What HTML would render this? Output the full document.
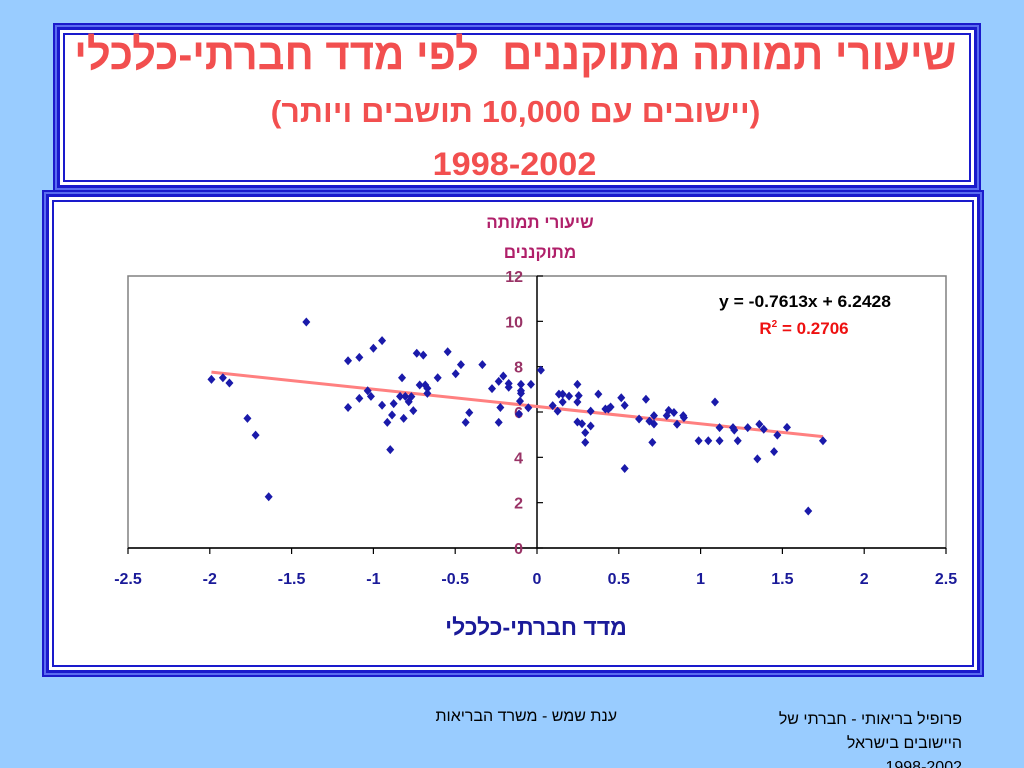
<!DOCTYPE html>
<html><head><meta charset="utf-8"><style>
html,body{margin:0;width:1024px;height:768px;overflow:hidden}
body{background:#99ccff;position:relative;font-family:"Liberation Sans","Noto Sans CJK SC",sans-serif}
.box{position:absolute;background:#fff;border:3px solid #1a1acc;box-shadow:0 0 0 2px #5a6cf0,0 0 0 4px #1a1acc}
.box .in{position:absolute;inset:3px;border:2px solid #1a1acc}
.t{position:absolute;direction:rtl;text-align:center;font-weight:bold;color:#f24f4f;white-space:nowrap}
.t span{display:inline-block}
.f{position:absolute;direction:rtl;text-align:right;font-size:16px;color:#000;white-space:nowrap}
</style></head><body>
<div class="box" style="left:57px;top:27px;width:914px;height:155px"><div class="in"></div></div>
<div class="t" style="left:0;width:1030px;top:30px;font-size:44px"><span style="transform:scaleX(0.95)">שיעורי תמותה מתוקננים&nbsp; לפי מדד חברתי-כלכלי</span></div>
<div class="t" style="left:0;width:1030px;top:94px;font-size:31px"><span style="transform:scaleX(1.04)">(יישובים עם 10,000 תושבים ויותר)</span></div>
<div class="t" style="left:0;width:1030px;top:146px;font-size:32px"><span style="transform:scaleX(1.07)">1998-2002</span></div>
<div class="box" style="left:46px;top:194px;width:928px;height:473px"><div class="in"></div></div>
<svg width="1024" height="768" style="position:absolute;left:0;top:0">
<g id="g"></g>
</svg>
<div class="f" style="right:62px;top:708px;line-height:24px">פרופיל בריאותי - חברתי של<br>היישובים בישראל<br>1998-2002</div>
<div class="f" style="right:407px;top:708px">ענת שמש - משרד הבריאות</div>
<script>
const xValues=[-1.99,-1.92,-1.88,-1.77,-1.72,-1.64,-1.41,-1.155,-1.155,-1.086,-1.086,-1.035,-1.015,-1.0,-0.947,-0.947,-0.915,-0.897,-0.886,-0.876,-0.837,-0.825,-0.815,-0.805,-0.784,-0.768,-0.756,-0.735,-0.717,-0.695,-0.683,-0.67,-0.67,-0.607,-0.546,-0.497,-0.465,-0.436,-0.414,-0.334,-0.275,-0.234,-0.234,-0.224,-0.206,-0.173,-0.173,-0.098,-0.098,-0.098,-0.104,-0.11,-0.053,-0.037,0.024,0.096,0.126,0.134,0.157,0.157,0.196,0.247,0.247,0.255,0.247,0.275,0.295,0.295,0.328,0.328,0.375,0.418,0.436,0.45,0.515,0.536,0.536,0.624,0.666,0.687,0.705,0.715,0.715,0.793,0.805,0.837,0.856,0.894,0.898,0.988,1.047,1.088,1.116,1.116,1.198,1.206,1.227,1.288,1.347,1.359,1.386,1.449,1.469,1.528,1.658,1.748];
const yValues=[7.44,7.51,7.28,5.72,4.98,2.26,9.97,8.26,6.2,8.41,6.6,6.94,6.69,8.81,9.15,6.3,5.54,4.34,5.87,6.37,6.69,7.51,5.72,6.69,6.45,6.68,6.06,8.59,7.19,8.51,7.19,7.04,6.82,7.51,8.66,7.69,8.09,5.54,5.97,8.09,7.03,7.35,5.54,6.2,7.59,7.26,7.09,7.22,6.94,6.82,6.48,5.91,6.19,7.22,7.85,6.28,6.04,6.79,6.79,6.44,6.7,7.22,6.44,6.72,5.56,5.48,5.09,4.66,6.04,5.38,6.79,6.13,6.13,6.22,6.63,6.29,3.51,5.69,6.56,5.6,4.66,5.84,5.47,5.84,6.07,5.98,5.46,5.84,5.75,4.73,4.73,6.44,5.31,4.73,5.31,5.2,4.73,5.31,3.93,5.46,5.24,4.25,4.98,5.32,1.63,4.73];
const xTicks=[-2.5,-2,-1.5,-1,-0.5,0,0.5,1,1.5,2,2.5];
const xTickLabels=["-2.5","-2","-1.5","-1","-0.5","0","0.5","1","1.5","2","2.5"];
const yTicks=[0,2,4,6,8,10,12];
const yTickLabels=["0","2","4","6","8","10","12"];
const trendSlope=[-0.7613];
const trendIntercept=[6.2428];
const NS='http://www.w3.org/2000/svg';
const g=document.getElementById('g');
const L=128,R=946,T=276,B=548;
const sx=v=>L+(v+2.5)/5*(R-L);
const sy=v=>B-v/12*(B-T);
function mk(tag,attrs,parent){const e=document.createElementNS(NS,tag);for(const k in attrs)e.setAttribute(k,attrs[k]);(parent||g).appendChild(e);return e;}
const frame=mk('rect',{x:L,y:T,width:R-L,height:B-T,fill:'none',stroke:'#808080','stroke-width':1.5});


const xa=mk('line',{x1:L,x2:R,y1:sy(0),y2:sy(0),stroke:'#000','stroke-width':1.5});


const ya=mk('line',{x1:sx(0),x2:sx(0),y1:T,y2:B,stroke:'#000','stroke-width':1.5});


xTicks.forEach((v,i)=>{
 mk('line',{x1:sx(v),x2:sx(v),y1:sy(0),y2:sy(0)+6,stroke:'#000','stroke-width':1.2});
 const t=mk('text',{x:sx(v),y:584,'text-anchor':'middle','font-size':16,'font-weight':'bold',fill:'#1a1a99'});
 t.textContent=xTickLabels[i];
 
 
});
yTicks.forEach((v,i)=>{
 mk('line',{x1:sx(0),x2:sx(0)+6,y1:sy(v),y2:sy(v),stroke:'#000','stroke-width':1.2});
 const t=mk('text',{x:sx(0)-14,y:sy(v)+6,'text-anchor':'end','font-size':16,'font-weight':'bold',fill:'#993366'});
 t.textContent=yTickLabels[i];
 
 
});
const x0=Math.min(...xValues),x1=Math.max(...xValues);
const tl=mk('line',{x1:sx(x0),y1:sy(trendSlope[0]*x0+trendIntercept[0]),x2:sx(x1),y2:sy(trendSlope[0]*x1+trendIntercept[0]),stroke:'#ff8080','stroke-width':3});


xValues.forEach((v,i)=>{
 const cx=sx(v),cy=sy(yValues[i]);
 const p=mk('polygon',{points:`${cx},${cy-4.5} ${cx+4},${cy} ${cx},${cy+4.5} ${cx-4},${cy}`,fill:'#1a1aaa'});
 
 
});
const eq=mk('text',{x:805,y:307,'text-anchor':'middle','font-size':17,'font-weight':'bold',fill:'#000',textLength:172,lengthAdjust:'spacingAndGlyphs'});
eq.textContent='y = -0.7613x + 6.2428';


const r2=mk('text',{x:804,y:334,'text-anchor':'middle','font-size':17,'font-weight':'bold',fill:'#ee1111'});
r2.innerHTML='R<tspan font-size="10" dy="-7">2</tspan><tspan dy="7"> = 0.2706</tspan>';


const yt1=mk('text',{x:540,y:228,'text-anchor':'middle','font-size':17,'font-weight':'bold',fill:'#b0206a',direction:'rtl'});
yt1.textContent='שיעורי תמותה';


const yt2=mk('text',{x:540,y:258,'text-anchor':'middle','font-size':17,'font-weight':'bold',fill:'#b0206a',direction:'rtl'});
yt2.textContent='מתוקננים';


const xt=mk('text',{x:536,y:635,'text-anchor':'middle','font-size':23,'font-weight':'bold',fill:'#1a1a99',direction:'rtl'});
xt.textContent='מדד חברתי-כלכלי';


</script>
</body></html>
